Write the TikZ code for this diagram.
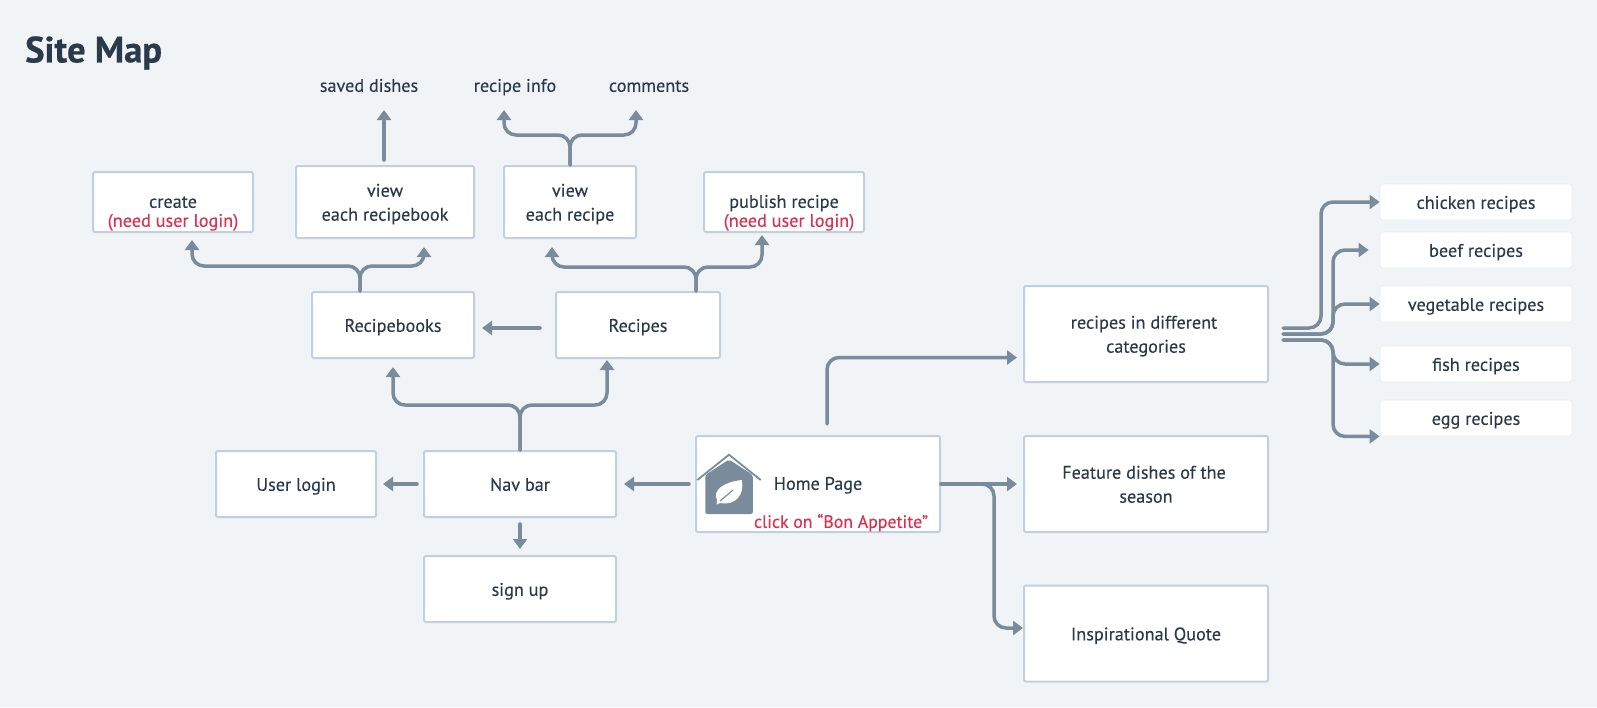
\documentclass[tikz,border=0pt]{standalone}
\usepackage{fontspec}
\setmainfont[FakeBold=0.2]{PT Sans}
\newfontfamily\titlefont[FakeBold=0.6]{PT Sans Bold}
\usetikzlibrary{arrows.meta,calc}
\definecolor{bgc}{HTML}{F0F4F7}
\definecolor{edgec}{HTML}{C2D0DD}
\definecolor{linec}{HTML}{7A8B9B}
\definecolor{txtc}{HTML}{2B3A4A}
\definecolor{redc}{HTML}{DC3050}
\newcommand{\firstrule}{\rule{0pt}{20.5pt}}
\tikzset{
  x=1pt,y=-1pt,
  lbl/.style={text=txtc,font=\fontsize{18.2}{24}\selectfont,align=center,inner sep=0pt,execute at begin node={\rule{0pt}{20.8pt}},execute at end node={\rule[-7.2pt]{0pt}{7.2pt}}},
  redlbl/.style={lbl,text=redc},
  pagebox/.style={lbl,draw=edgec,fill=white,line width=2pt,rounded corners=2pt,anchor=center},
  twobox/.style={pagebox,execute at begin node={},execute at end node={}},
  smallbox/.style={lbl,draw=black!3!bgc,fill=white,line width=.8pt,rounded corners=3pt,minimum width=192pt,minimum height=36pt},
  conn/.style={draw=linec,line width=3.5pt,rounded corners=12pt,-{Triangle[width=14pt,length=10pt]}},
  stub/.style={conn,line cap=round},
}
\begin{document}
\begin{tikzpicture}
\useasboundingbox (0,0) rectangle (1597,707);
\fill[bgc] (0,0) rectangle (1597,707);
\node[text=txtc,inner sep=0pt,anchor=west,font=\fontsize{36.6}{40}\selectfont\titlefont] (title) at (25,53) {Site Map};
\node[lbl] (saved) at (369,85) {saved dishes};
\node[lbl] (info) at (515,85) {recipe info};
\node[lbl] (comments) at (649,85) {comments};
% page boxes
\node[pagebox,minimum width=160pt,minimum height=60pt] (create) at (173,202) {};
\node[lbl] (createtxt) at (173,201) {create};
\node[redlbl] (createreq) at (173,220) {(need user login)};
\node[twobox,minimum width=178pt,minimum height=72pt] (book) at (385,202) {\firstrule view\\each recipebook\rule[-7.2pt]{0pt}{7.2pt}};
\node[twobox,minimum width=132pt,minimum height=72pt] (recipe) at (570,202) {\firstrule view\\each recipe\rule[-7.2pt]{0pt}{7.2pt}};
\node[pagebox,minimum width=160pt,minimum height=60pt] (publish) at (784,202) {};
\node[lbl] (publishtxt) at (784,201) {publish recipe};
\node[redlbl] (publishreq) at (789,220) {(need user login)};
\node[pagebox,minimum width=162pt,minimum height=66pt] (books) at (393,325) {Recipebooks};
\node[pagebox,minimum width=164pt,minimum height=66pt] (recipes) at (638,325) {Recipes};
\node[pagebox,minimum width=160pt,minimum height=66pt] (login) at (296,484) {User login};
\node[pagebox,minimum width=192pt,minimum height=66pt] (nav) at (520,484) {Nav bar};
\node[pagebox,minimum width=192pt,minimum height=66pt] (signup) at (520,589) {sign up};
\node[pagebox,minimum width=244pt,minimum height=96pt] (home) at (818,484) {};
\node[lbl] (hometxt) at (818,483) {Home Page};
\node[redlbl,font=\fontsize{17.8}{24}\selectfont] (homereq) at (841,521) {click on “Bon Appetite”};
\node[twobox,minimum width=244pt,minimum height=96pt] (cat) at (1146,334) {\firstrule recipes in different\hspace*{4pt}\\categories\rule[-7.2pt]{0pt}{7.2pt}};
\node[twobox,minimum width=244pt,minimum height=96pt] (feature) at (1146,484) {\firstrule Feature dishes of the\hspace*{4pt}\\season\rule[-7.2pt]{0pt}{7.2pt}};
\node[pagebox,minimum width=244pt,minimum height=96pt] (quote) at (1146,633.5) {Inspirational Quote};
% small boxes
\node[smallbox] (chicken) at (1476,202) {chicken recipes};
\node[smallbox] (beef) at (1476,250) {beef recipes};
\node[smallbox] (veg) at (1476,304) {vegetable recipes};
\node[smallbox] (fish) at (1476,364) {fish recipes};
\node[smallbox] (egg) at (1476,418) {egg recipes};
% house icon
\fill[linec,rounded corners=2pt] (705.3,475) -- (729,459.5) -- (752.8,475) -- (752.8,514) -- (705.3,514) -- cycle;
\draw[linec,line width=1.8pt] (697.3,480) -- (729,454.7) -- (760.7,480);
\fill[white] (741.7,480) .. controls (724,482) and (712,490) .. (717,500) -- (716.7,504.5) -- (720,503) .. controls (735,506) and (745,495) .. (741.7,480) -- cycle;
\draw[linec,line width=1.1pt] (720,501) -- (733,490);
% connectors
\draw[stub] ([xshift=-33pt]books.north) -- ++(0,-25) -| ([xshift=19pt,yshift=-7pt]create.south);
\draw[stub] ([xshift=-33pt]books.north) -- ++(0,-25) -| ([xshift=39pt,yshift=-8pt]book.south);
\draw[stub] ([xshift=-1pt,yshift=5pt]book.north) -- ([xshift=-1pt,yshift=55pt]book.north);
\draw[stub] (recipe.north) -- ++(0,-30) -| ([xshift=-66pt,yshift=55pt]recipe.north);
\draw[stub] (recipe.north) -- ++(0,-30) -| ([xshift=66pt,yshift=55pt]recipe.north);
\draw[stub] ([xshift=58pt]recipes.north) -- ++(0,-24) -| ([xshift=-18pt,yshift=-8pt]recipe.south);
\draw[stub] ([xshift=58pt]recipes.north) -- ++(0,-24) -| ([xshift=-22pt,yshift=-2pt]publish.south);
\draw[stub] ([xshift=-15pt,yshift=-3pt]recipes.west) -- ([xshift=7pt,yshift=-3pt]books.east);
\draw[stub] (nav.north) -- ++(0,-45) -| ([yshift=-8pt]books.south);
\draw[stub] (nav.north) -- ++(0,-45) -| ([xshift=-31pt,yshift=-1pt]recipes.south);
\draw[stub] ([xshift=-6pt]nav.west) -- ([xshift=6pt]login.east);
\draw[stub] ([yshift=-6pt]nav.south) -- ([yshift=6pt]signup.north);
\draw[stub] ([xshift=-6pt]home.west) -- ([xshift=7pt]nav.east);
\draw[stub] ([xshift=9pt,yshift=11pt]home.north) |- ([xshift=-6pt,yshift=-23.5pt]cat.west);
\draw[stub] (home.east) -- ([xshift=-6pt]feature.west);
\draw[stub] (home.east) -- ++(53,0) |- ([yshift=5.5pt]quote.west);
\draw[stub] ([xshift=14pt,yshift=6pt]cat.east) -- ++(38,0) |- (chicken.west);
\draw[stub] ([xshift=14pt]cat.east) -- ++(50,0) |- ([xshift=-11pt]beef.west);
\draw[stub] ([xshift=14pt]cat.east) -- ++(50,0) |- (veg.west);
\draw[stub] ([xshift=14pt,yshift=-6pt]cat.east) -- ++(50,0) |- (fish.west);
\draw[stub] ([xshift=14pt,yshift=-6pt]cat.east) -- ++(50,0) |- (egg.south west);
\end{tikzpicture}
\end{document}
